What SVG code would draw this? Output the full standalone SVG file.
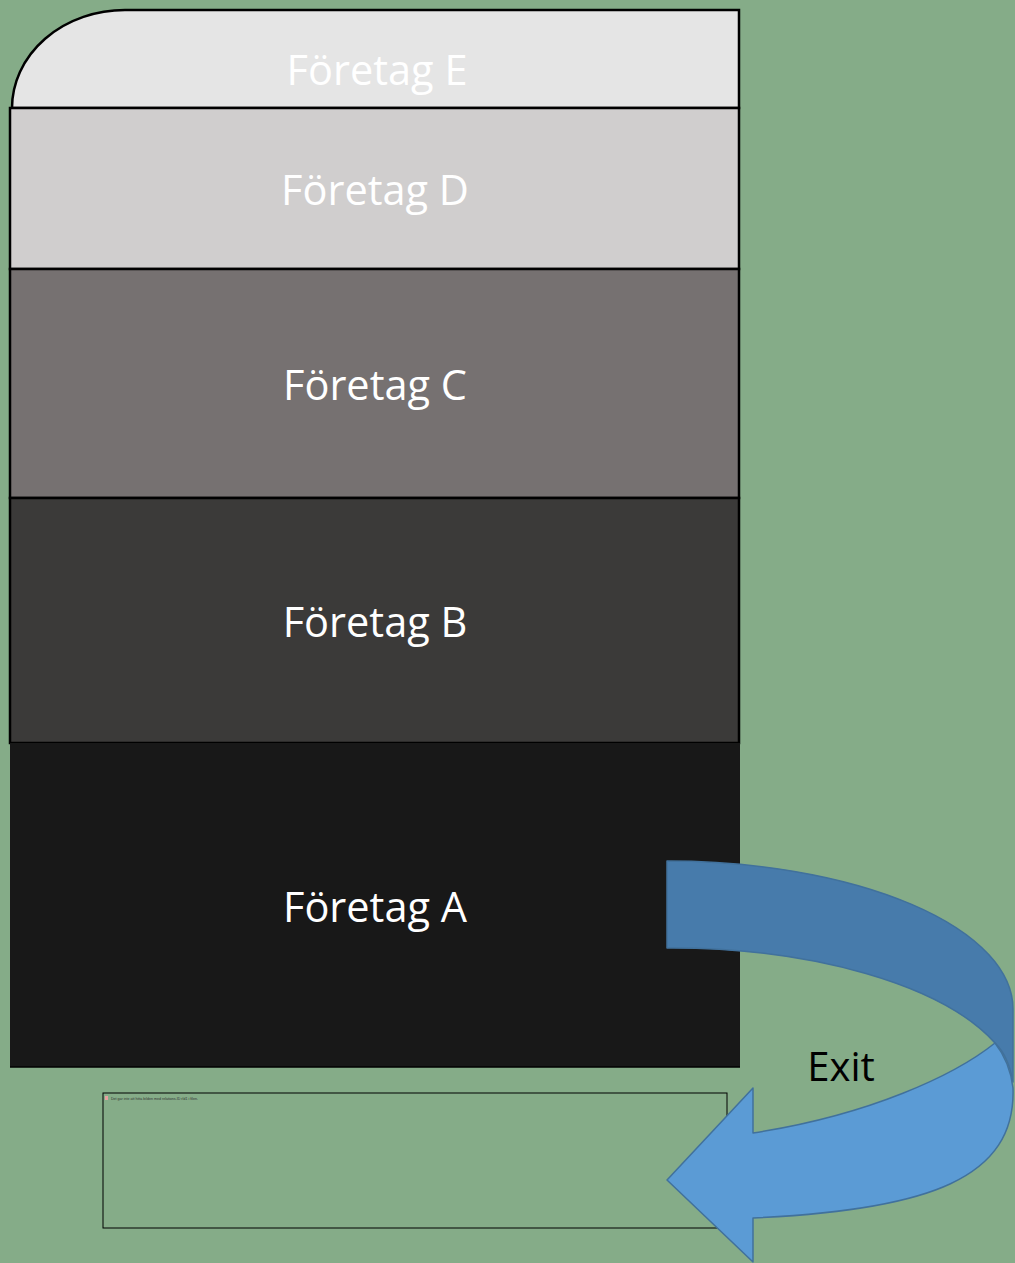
<svg xmlns="http://www.w3.org/2000/svg" width="1015" height="1263" viewBox="0 0 1015 1263">
<style>
.lbl{font-family:"Open Sans","Liberation Sans",sans-serif;font-size:41.5px;fill:#ffffff;text-anchor:middle}
.lay{stroke:#000;stroke-width:2.5}
</style>
<rect width="1015" height="1263" fill="#85AC88"/>
<g id="foretag-e">
<path class="lay" d="M12,108 A113,98 0 0 1 125,10 L739,10 L739,108 Z" fill="#E5E5E5"/>
<text class="lbl" x="377" y="85">Företag E</text>
</g>
<g id="foretag-d">
<rect class="lay" x="10" y="108" width="729" height="161" fill="#D0CECE"/>
<text class="lbl" x="375" y="205">Företag D</text>
</g>
<g id="foretag-c">
<rect class="lay" x="10" y="269" width="729" height="229" fill="#767171"/>
<text class="lbl" x="375" y="400">Företag C</text>
</g>
<g id="foretag-b">
<rect class="lay" x="10" y="498" width="729" height="245" fill="#3B3A39"/>
<text class="lbl" x="375" y="637">Företag B</text>
</g>
<g id="foretag-a">
<rect x="10" y="743" width="730" height="324" fill="#181818"/>
<line x1="10" y1="1067" x2="740" y2="1067" stroke="#000" stroke-width="1.5"/>
<text class="lbl" x="375" y="922">Företag A</text>
</g>
<g id="image-placeholder">
<rect x="103" y="1093" width="624" height="135" fill="none" stroke="#000" stroke-width="1"/>
<rect x="105" y="1096" width="3" height="4" fill="#e8a0a0"/>
<text x="111" y="1099.5" font-family="Liberation Sans, sans-serif" font-size="3.6" fill="#333">Det går inte att hitta bilden med relations-ID rId1 i filen.</text>
</g>
<g id="connectors">
<path d="M667,861 A346,148 0 0 1 1013,1009 L1013,1082 Q1008,1055 995,1043 A346,148 0 0 0 667,948 Z" fill="#477BAB" stroke="#41719C" stroke-width="1.5" stroke-linejoin="round"/>
<path d="M995,1043 Q1010,1062 1013,1088 C1016,1178 930,1210 753,1218 L753,1262 L667,1180 L753,1088 L753,1133 C870,1115 955,1075 995,1043 Z" fill="#5B9BD5" stroke="#41719C" stroke-width="1.5" stroke-linejoin="round"/>
<text x="841" y="1081" font-family="Open Sans, Liberation Sans, sans-serif" font-size="40" fill="#000" text-anchor="middle">Exit</text>
</g>
</svg>
